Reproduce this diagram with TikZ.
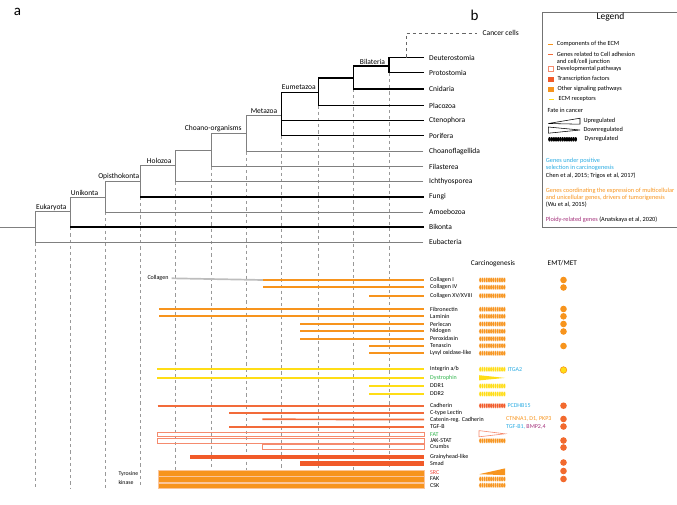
\documentclass[tikz,border=0pt]{standalone}
\usepackage{fontspec}
\setmainfont{Carlito}
\definecolor{ecmc}{HTML}{F7941D}
\definecolor{adhc}{HTML}{F26B3A}
\definecolor{devc}{HTML}{F58B6E}
\definecolor{tfc}{HTML}{F15A29}
\definecolor{sigc}{HTML}{F7941D}
\definecolor{recc}{HTML}{FFDD15}
\definecolor{cyanc}{HTML}{29ABE2}
\definecolor{purpc}{HTML}{A3307A}
\definecolor{greenc}{HTML}{2DB34A}
\definecolor{redc}{HTML}{EF4136}
\definecolor{colgr}{HTML}{BDBDBD}
\definecolor{emtc}{HTML}{F26A2E}
\definecolor{sepc}{HTML}{FBC59A}
\begin{document}
\begin{tikzpicture}[x=1pt,y=-1pt,
  tbr/.style={draw=black!50,line width=0.8pt,line cap=rect},
  kbr/.style={draw=black,line width=1.5pt,line cap=rect,line join=miter},
  guide/.style={draw=black!40,line width=0.55pt,dash pattern=on 3.2pt off 3pt},
  leaf/.style={anchor=west,font=\fontsize{7.5}{8}\selectfont,inner sep=0pt},
  clade/.style={font=\fontsize{7.5}{8}\selectfont,inner sep=0pt},
  gene/.style={anchor=west,font=\fontsize{6}{7}\selectfont,inner sep=0pt},
  leg/.style={anchor=west,font=\fontsize{6.3}{7}\selectfont,inner sep=0pt},
  hdr/.style={font=\fontsize{7.3}{8}\selectfont,inner sep=0pt},
  ecmbar/.style={draw=ecmc,line width=1.7pt},
  recbar/.style={draw=recc,line width=1.7pt},
  adhbar/.style={draw=adhc,line width=1.7pt},
  devbox/.style={draw=devc,line width=0.8pt},
  tfbox/.style={fill=tfc},
  sigbox/.style={fill=sigc,draw=sepc,line width=0.4pt},
  emt/.style={circle,fill=emtc,minimum size=6.6pt,inner sep=0pt},
  emtecm/.style={circle,fill=ecmc,minimum size=6.6pt,inner sep=0pt},
  pics/beadbar/.style={code={\foreach \i in {0,...,11} \filldraw[fill=#1,draw=white,line width=0.2pt] (\i*2.18,0) ellipse (1.35 and 2.6);}}
]
\useasboundingbox (0,0) rectangle (677,504);
\clip (0,0) rectangle (677,504);

% panel letters
\node[font=\fontsize{15}{16}\selectfont,inner sep=0pt] (pa) at (17.5,11.5) {a};
\node[font=\fontsize{15}{16}\selectfont,inner sep=0pt] (pb) at (474.5,15) {b};

% dashed guides
\foreach \x/\y in {35/242.3,70.3/227.2,105.7/212,140.7/196.8,175.7/181.7,211/166.5,246/151.5,281.7/135.7,318.3/105.5,353.3/88.8,389/72.7}
  \draw[guide] (\x,\y) -- (\x,488);

% leaf labels
\node[leaf] (cancer) at (482.5,33.3) {Cancer cells};
\node[leaf] (deut) at (429,57.5) {Deuterostomia};
\node[leaf] (prot) at (429,72.7) {Protostomia};
\node[leaf] (cnid) at (429,88.8) {Cnidaria};
\node[leaf] (plac) at (429,105.5) {Placozoa};
\node[leaf] (cten) at (429,120.6) {Ctenophora};
\node[leaf] (porif) at (429,135.7) {Porifera};
\node[leaf] (choanofl) at (429,151.5) {Choanoflagellida};
\node[leaf] (filas) at (429,166.5) {Filasterea};
\node[leaf] (ichth) at (429,181.7) {Ichthyosporea};
\node[leaf] (fungi) at (429,196.8) {Fungi};
\node[leaf] (amoeb) at (429,212) {Amoebozoa};
\node[leaf] (bikon) at (429,227.2) {Bikonta};
\node[leaf] (eubac) at (429,242.3) {Eubacteria};

% clade labels
\node[clade] (lEuk) at (51.3,207.3) {Eukaryota};
\node[clade] (lUni) at (84.5,192.5) {Unikonta};
\node[clade] (lOpi) at (118.7,176.8) {Opisthokonta};
\node[clade] (lHol) at (159.2,161.3) {Holozoa};
\node[clade] (lCho) at (213.3,128.3) {Choano-organisms};
\node[clade] (lMet) at (264,111) {Metazoa};
\node[clade] (lEum) at (298.8,87.5) {Eumetazoa};
\node[clade] (lBil) at (372.5,61.5) {Bilateria};

% thin branches
\draw[tbr] (0,227.2) -- (35,227.2);
\draw[tbr] ([xshift=-6pt]eubac.west) -- (35,242.3) -- (35,211.7) -- (70.3,211.7);
\draw[tbr] (70.3,227.2) -- (70.3,197.3) -- (105.7,197.3);
\draw[tbr] ([xshift=-6pt]amoeb.west) -- (105.7,212) -- (105.7,181.7) -- (140.7,181.7);
\draw[tbr] (140.7,196.8) -- (140.7,165.7) -- (175.7,165.7);
\draw[tbr] ([xshift=-6pt]ichth.west) -- (175.7,181.7) -- (175.7,150.3) -- (211,150.3);
\draw[tbr] ([xshift=-6pt]filas.west) -- (211,166.5) -- (211,133.3) -- (246,133.3);
\draw[tbr] ([xshift=-6pt]choanofl.west) -- (246,151.5) -- (246,115.7) -- (281.7,115.7);

% thick branches
\draw[kbr] (70.3,227.2) -- ([xshift=-6pt]bikon.west);
\draw[kbr] (140.7,196.8) -- ([xshift=-6pt]fungi.west);
\draw[kbr] ([xshift=-6pt]porif.west) -- (281.7,135.7) -- (281.7,92.7) -- (318.3,92.7);
\draw[kbr] (281.7,120.6) -- ([xshift=-6pt]cten.west);
\draw[kbr] ([xshift=-6pt]plac.west) -- (318.3,105.5) -- (318.3,78) -- (353.3,78);
\draw[kbr] ([xshift=-6pt]cnid.west) -- (353.3,88.8) -- (353.3,66) -- (389,66);
\draw[kbr] ([xshift=-6pt]prot.west) -- (389,72.7) -- (389,57.5) -- ([xshift=-6pt]deut.west);

% cancer cells
\coordinate (cc) at (406,57.5);
\draw[guide,draw=black!60] (cc) -- (406,33.3) -- ([xshift=-6pt]cancer.west);

% legend
\draw[draw=black!55,line width=0.6pt] (542.3,12.3) rectangle (677.6,227.7);
\node[font=\fontsize{9.5}{10}\selectfont,inner sep=0pt] (legt) at (610.5,17) {Legend};
\draw[draw=ecmc,line width=1.4pt] (548.3,44.3) -- (553.3,44.3);
\node[leg] (l1) at (556.7,44.3) {Components of the ECM};
\draw[draw=adhc,line width=1.4pt] (548.3,54.2) -- (553.3,54.2);
\node[leg] (l2) at (556.7,54.2) {Genes related to Cell adhesion};
\node[leg] (l2b) at (556.7,62) {and cell/cell junction};
\draw[devbox] (548.3,66.8) rectangle (553.3,71.8);
\node[leg] (l3) at (556.7,69.3) {Developmental pathways};
\fill[tfc] (548.3,76.8) rectangle (553.8,82.3);
\node[leg] (l4) at (557.3,79.3) {Transcription factors};
\fill[sigc] (548.3,86.8) rectangle (553.8,92.3);
\node[leg] (l5) at (557.3,89.3) {Other signaling pathways};
\draw[draw=recc,line width=1.5pt] (549.3,99.3) -- (554.3,99.3);
\node[leg] (l6) at (558.3,99.3) {ECM receptors};
\node[leg] (l7) at (547.5,110.3) {Fate in cancer};
\draw[line width=0.55pt] (548.3,123.5) -- (580,118.2) -- (580,124.2) -- cycle;
\node[leg] (l8) at (583.3,120.6) {Upregulated};
\draw[line width=0.55pt] (548.3,127) -- (580,130) -- (548.3,133.2) -- cycle;
\node[leg] (l9) at (583.3,129.6) {Downregulated};
\foreach \i in {0,...,12} \fill[black] (549.5+\i*2.18,139.3) ellipse (1.35 and 2.3);
\node[leg] (l10) at (584.3,139.1) {Dysregulated};
\node[leg,text=cyanc] (l11) at (545.7,161) {Genes under positive};
\node[leg,text=cyanc] (l12) at (545.7,167.8) {selection in carcinogenesis};
\node[leg] (l13) at (545.7,175.5) {Chen et al, 2015; Trigos et al, 2017)};
\node[leg,text=ecmc] (l14) at (545.7,190.5) {Genes coordinating the expression of multicellular};
\node[leg,text=ecmc] (l15) at (545.7,197.6) {and unicellular genes, drivers of tumorigenesis};
\node[leg] (l16) at (545.7,204.6) {(Wu et al, 2015)};
\node[leg] (l17) at (545.7,219.3) {\textcolor{purpc}{Ploidy-related genes} (Anatskaya et al, 2020)};

% column headers
\node[hdr] (hc) at (493,263.3) {Carcinogenesis};
\node[hdr] (he) at (562.3,263.3) {EMT/MET};

% gene labels
\node[gene] (g1) at (430,280) {Collagen I};
\node[gene] (g2) at (430,287.3) {Collagen IV};
\node[gene] (g3) at (430,295.7) {Collagen XV/XVIII};
\node[gene] (g4) at (430,309.3) {Fibronectin};
\node[gene] (g5) at (430,316.3) {Laminin};
\node[gene] (g6) at (430,324) {Perlecan};
\node[gene] (g7) at (430,331.3) {Nidogen};
\node[gene] (g8) at (430,338.7) {Peroxidasin};
\node[gene] (g9) at (430,345.7) {Tenascin};
\node[gene] (g10) at (430,353.3) {Lysyl oxidase-like};
\node[gene] (g11) at (430,369.3) {Integrin a/b};
\node[gene,text=greenc] (g12) at (430,377.7) {Dystrophin};
\node[gene] (g13) at (430,386) {DDR1};
\node[gene] (g14) at (430,394) {DDR2};
\node[gene] (g15) at (430,405.7) {Cadherin};
\node[gene] (g16) at (430,413) {C-type Lectin};
\node[gene] (g17) at (430,419.5) {Catenin-reg. Cadherin};
\node[gene] (g18) at (430,426.7) {TGF-B};
\node[gene,text=greenc] (g19) at (430,434.2) {FAT};
\node[gene] (g20) at (430,440.6) {JAK-STAT};
\node[gene] (g21) at (430,446.8) {Crumbs};
\node[gene] (g22) at (430,456.8) {Grainyhead-like};
\node[gene] (g23) at (430,463) {Smad};
\node[gene,text=redc] (g24) at (430,472.2) {SRC};
\node[gene] (g25) at (430,479) {FAK};
\node[gene] (g26) at (430,485.4) {CSK};
\node[gene] (gcol) at (147.3,278.3) {Collagen};
\node[gene,font=\fontsize{5.8}{6}\selectfont] (tk1) at (118.3,474) {Tyrosine};
\node[gene,font=\fontsize{5.8}{6}\selectfont] (tk2) at (118.3,482) {kinase};

% ECM bars
\draw[draw=colgr,line width=1.7pt] ([xshift=3pt]gcol.east) -- (263.3,280);
\draw[ecmbar] (263.3,280) -- ([xshift=-6pt]g1.west);
\draw[ecmbar] (263.3,287.3) -- ([xshift=-6pt]g2.west);
\draw[ecmbar] (369,295.7) -- ([xshift=-6pt]g3.west);
\draw[ecmbar] (159,309.3) -- ([xshift=-6pt]g4.west);
\draw[ecmbar] (159,316.3) -- ([xshift=-6pt]g5.west);
\draw[ecmbar] (300,324) -- ([xshift=-6pt]g6.west);
\draw[ecmbar] (300,331.3) -- ([xshift=-6pt]g7.west);
\draw[ecmbar] (300,338.7) -- ([xshift=-6pt]g8.west);
\draw[ecmbar] (369,345.7) -- ([xshift=-6pt]g9.west);
\draw[ecmbar] (369,353.3) -- ([xshift=-6pt]g10.west);
% receptor bars
\draw[recbar] (157.3,369.3) -- ([xshift=-6pt]g11.west);
\draw[recbar] (157.3,377.7) -- ([xshift=-6pt]g12.west);
\draw[recbar] (369,386) -- ([xshift=-6pt]g13.west);
\draw[recbar] (369,394) -- ([xshift=-6pt]g14.west);
% adhesion bars
\draw[adhbar] (157.7,405.7) -- ([xshift=-6pt]g15.west);
\draw[adhbar] (229,413) -- ([xshift=-6pt]g16.west);
\draw[adhbar] (262.3,419.3) -- ([xshift=-6pt]g17.west);
\draw[adhbar] (229.3,426.7) -- ([xshift=-6pt]g18.west);
% developmental pathways
\draw[devbox] (157.7,432.3) rectangle (424,436.7);
\draw[devbox] (157.7,438.7) rectangle (424,443.3);
\draw[devbox] (262.3,444.5) rectangle (424,449.3);
% transcription factors
\fill[tfbox] (190.3,455) rectangle (424,459.4);
\fill[tfbox] (300.3,461) rectangle (424,465.7);
% other signalling
\filldraw[sigbox] (158,470) rectangle (424.5,475.7);
\filldraw[sigbox] (158,476.5) rectangle (424.5,482);
\filldraw[sigbox] (158,482.8) rectangle (424.5,488.4);

% carcinogenesis column
\foreach \y in {280,287.3,295.7,309.3,316.3,324,331.3,338.7,345.7,353.3}
  \pic at (480.3,\y) {beadbar=ecmc};
\foreach \y in {369.3,386,394}
  \pic at (480.3,\y) {beadbar=recc};
\pic at (480.3,405.7) {beadbar=tfc};
\foreach \y in {440.7,479,485.3}
  \pic at (480.3,\y) {beadbar=sigc};
\fill[recc] (479,375.2) -- (505,377.9) -- (479,380.4) -- cycle;
\draw[draw=devc,line width=0.6pt] (479,430.6) -- (505,433.8) -- (479,436.8) -- cycle;
\fill[sigc] (479,474.2) -- (505,468.4) -- (505,475.2) -- cycle;
\node[gene,text=cyanc] (t1) at (507.3,369.3) {ITGA2};
\node[gene,text=cyanc] (t2) at (507.3,405.7) {PCDHB15};
\node[gene,text=ecmc] (t3) at (506,419) {CTNNA1, D1, PKP3};
\node[gene,text=cyanc] (t4) at (506,426.7) {TGF-B1, \textcolor{purpc}{BMP2,4}};

% EMT/MET circles
\foreach \y [count=\k] in {280,287.5,309,316.3,324,331.5,346}
  \node[emtecm] (ea\k) at (563.5,\y) {};
\node[circle,fill=recc,draw=ecmc,line width=0.6pt,minimum size=6.6pt,inner sep=0pt] (eint) at (563.5,370) {};
\foreach \y [count=\k] in {405.7,419,426.5,440.5,447.5,462.5,471,479}
  \node[emt] (eb\k) at (563.5,\y) {};
\end{tikzpicture}
\end{document}
